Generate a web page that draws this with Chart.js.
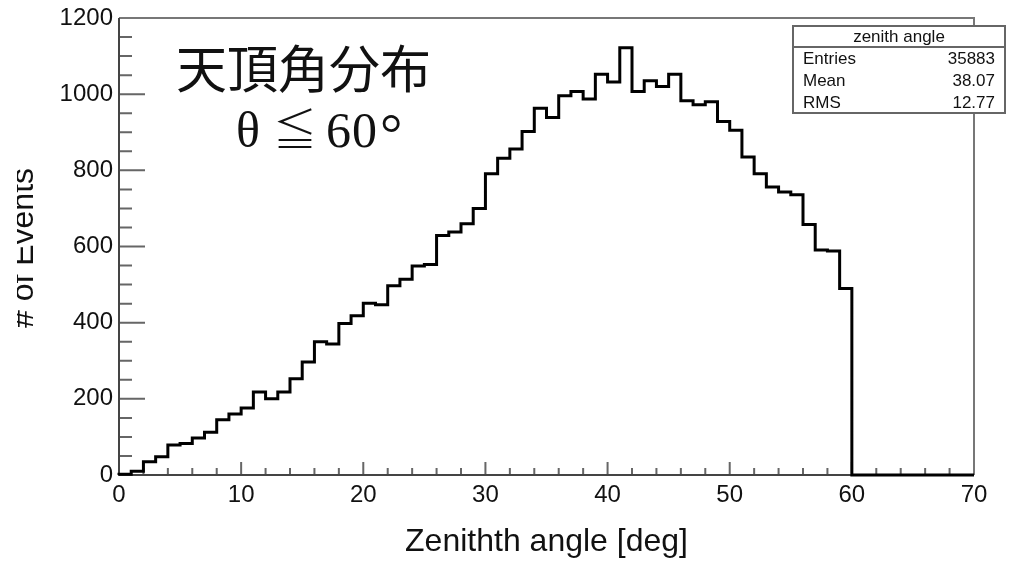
<!DOCTYPE html>
<html>
<head>
<meta charset="utf-8">
<script src="https://cdn.jsdelivr.net/npm/chart.js@4.4.1/dist/chart.umd.min.js"></script>
<style>
  html, body { margin: 0; padding: 0; background: #fff; }
  #wrap { width: 1009px; height: 563px; }
</style>
</head>
<body>
<div id="wrap"><canvas id="zenith" width="1009" height="563"></canvas></div>
<script>
// bin edges in degrees (1 deg bins, 0..70)
const binEdges = [0, 1, 2, 3, 4, 5, 6, 7, 8, 9, 10, 11, 12, 13, 14, 15, 16, 17, 18, 19,
  20, 21, 22, 23, 24, 25, 26, 27, 28, 29, 30, 31, 32, 33, 34, 35, 36, 37, 38, 39,
  40, 41, 42, 43, 44, 45, 46, 47, 48, 49, 50, 51, 52, 53, 54, 55, 56, 57, 58, 59,
  60, 61, 62, 63, 64, 65, 66, 67, 68, 69, 70];
// events per bin
const counts = [2, 10, 35, 48, 79, 83, 97, 112, 145, 160,
  176, 218, 200, 218, 253, 297, 350, 344, 398, 418,
  451, 447, 497, 514, 549, 553, 629, 638, 660, 700,
  791, 832, 856, 902, 963, 939, 996, 1007, 987, 1052,
  1032, 1122, 1007, 1035, 1020, 1052, 983, 972, 980, 928,
  905, 835, 791, 756, 743, 736, 658, 591, 588, 490,
  0, 0, 0, 0, 0, 0, 0, 0, 0, 0];
const xTicks = [0, 10, 20, 30, 40, 50, 60, 70];
const yTicks = [0, 200, 400, 600, 800, 1000, 1200];
const statsTitle = 'zenith angle';
const statsLabels = ['Entries', 'Mean', 'RMS'];
const statsValues = ['35883', '38.07', '12.77'];
const xTitle = 'Zenithth angle [deg]';
const yTitle = '# of Events';
const noteLine1 = '天頂角分布';
const noteLine2 = ['θ', '≦', '6', '0', '°'];

const FONT = '"Liberation Sans", Arial, sans-serif';
const SERIF = '"Liberation Serif", "DejaVu Serif", serif';

// histogram outline: start at (0,0), then each bin value held up to its right edge
const points = [{ x: binEdges[0], y: 0 }];
counts.forEach((c, i) => points.push({ x: binEdges[i + 1], y: c }));

const rootFrame = {
  id: 'rootFrame',
  beforeDatasetsDraw(chart) {
    const { ctx, chartArea: a, scales: { x, y } } = chart;
    ctx.save();
    ctx.lineCap = 'butt';
    // minor + major ticks, drawn inward like ROOT
    ctx.strokeStyle = '#666';
    ctx.lineWidth = 2;
    ctx.beginPath();
    for (let v = x.min; v <= x.max; v += 2) {
      const px = x.getPixelForValue(v);
      const len = v % 10 === 0 ? 13 : 7;
      ctx.moveTo(px, a.bottom);
      ctx.lineTo(px, a.bottom - len);
    }
    for (let v = y.min; v <= y.max; v += 50) {
      const py = y.getPixelForValue(v);
      const len = v % 200 === 0 ? 26 : 13;
      ctx.moveTo(a.left, py);
      ctx.lineTo(a.left + len, py);
    }
    ctx.stroke();
    // frame top/right
    ctx.strokeStyle = '#777';
    ctx.beginPath();
    ctx.moveTo(a.left, a.top);
    ctx.lineTo(a.right, a.top);
    ctx.lineTo(a.right, a.bottom);
    ctx.stroke();
    // axes
    ctx.strokeStyle = '#444';
    ctx.beginPath();
    ctx.moveTo(a.left, a.top);
    ctx.lineTo(a.left, a.bottom);
    ctx.lineTo(a.right, a.bottom);
    ctx.stroke();
    ctx.restore();
  },
  afterDraw(chart) {
    const { ctx, chartArea: a } = chart;
    ctx.save();
    ctx.fillStyle = '#111';

    // axis titles
    ctx.font = '32px ' + FONT;
    ctx.textAlign = 'center';
    ctx.textBaseline = 'alphabetic';
    ctx.fillText(xTitle, (a.left + a.right) / 2, 551);

    ctx.save();
    ctx.beginPath();
    ctx.rect(17, 0, 100, 563);
    ctx.clip();
    ctx.translate(33, 248);
    ctx.rotate(-Math.PI / 2);
    ctx.fillText(yTitle, 0, 0);
    ctx.restore();

    // stats box
    const bx = 793, by = 26, bw = 212, bh = 87, head = 21, row = 22;
    ctx.fillStyle = '#fff';
    ctx.fillRect(bx, by, bw, bh);
    ctx.strokeStyle = '#666';
    ctx.lineWidth = 2;
    ctx.strokeRect(bx, by, bw, bh);
    ctx.beginPath();
    ctx.moveTo(bx, by + head);
    ctx.lineTo(bx + bw, by + head);
    ctx.stroke();
    ctx.fillStyle = '#111';
    ctx.font = '17px ' + FONT;
    ctx.textBaseline = 'middle';
    ctx.textAlign = 'center';
    ctx.fillText(statsTitle, bx + bw / 2, by + head / 2 + 1);
    statsLabels.forEach((lab, i) => {
      const ry = by + head + row * i + row / 2 + 1;
      ctx.textAlign = 'left';
      ctx.fillText(lab, bx + 10, ry);
      ctx.textAlign = 'right';
      ctx.fillText(statsValues[i], bx + bw - 10, ry);
    });

    // annotation
    ctx.textBaseline = 'alphabetic';
    ctx.textAlign = 'left';
    ctx.font = '51px "Noto Sans CJK JP", sans-serif';
    ctx.fillText(noteLine1, 176, 88);
    ctx.font = '50px ' + SERIF;
    ctx.fillText(noteLine2[0], 236, 147);
    ctx.font = '300 44px "Noto Sans CJK JP", sans-serif';
    ctx.fillText(noteLine2[1], 273, 146);
    ctx.font = '50px ' + SERIF;
    ctx.fillText(noteLine2[2], 326, 147);
    ctx.fillText(noteLine2[3], 352, 147);
    ctx.font = '56px ' + SERIF;
    ctx.fillText(noteLine2[4], 380, 153);
    ctx.restore();
  }
};

new Chart(document.getElementById('zenith'), {
  type: 'line',
  data: {
    datasets: [{
      label: statsTitle,
      data: points,
      stepped: 'after',
      borderColor: '#000',
      borderWidth: 3,
      pointRadius: 0,
      fill: false,
      clip: 6
    }]
  },
  options: {
    responsive: false,
    animation: false,
    events: [],
    layout: { padding: { left: 0, right: 35, top: 16, bottom: 0 } },
    plugins: { legend: { display: false }, tooltip: { enabled: false } },
    scales: {
      x: {
        type: 'linear',
        min: 0,
        max: 70,
        afterFit: s => { s.height = 88; },
        afterBuildTicks: s => { s.ticks = xTicks.map(v => ({ value: v })); },
        grid: { display: false, drawTicks: false },
        border: { display: false },
        ticks: { color: '#111', font: { family: FONT, size: 24, lineHeight: 1 }, padding: 8, maxRotation: 0,
          callback: v => String(v) }
      },
      y: {
        min: 0,
        max: 1200,
        afterFit: s => { s.width = 119; },
        afterBuildTicks: s => { s.ticks = yTicks.map(v => ({ value: v })); },
        grid: { display: false, drawTicks: false },
        border: { display: false },
        ticks: { color: '#111', font: { family: FONT, size: 24, lineHeight: 1 }, padding: 6,
          callback: v => String(v) }
      }
    }
  },
  plugins: [rootFrame]
});
</script>
</body>
</html>
